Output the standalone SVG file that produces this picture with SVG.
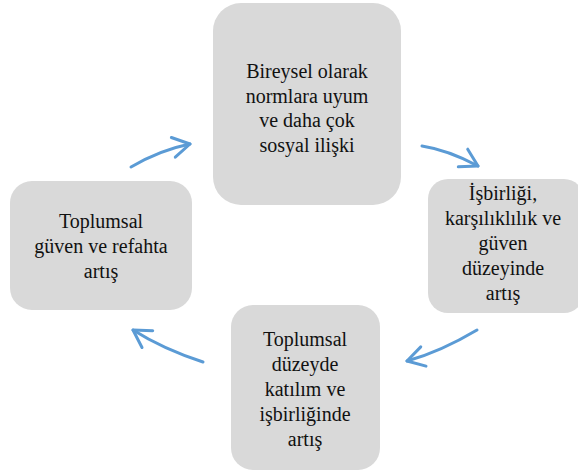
<svg xmlns="http://www.w3.org/2000/svg" width="578" height="473" viewBox="0 0 578 473">
<defs>
<marker id="ah" markerUnits="userSpaceOnUse" markerWidth="40" markerHeight="40" refX="0" refY="0" viewBox="-20 -20 40 40" orient="auto" overflow="visible">
<path d="M -17,-10 L 0,0 L -17,10" fill="none" stroke="#5B9BD5" stroke-width="3" stroke-linecap="round" stroke-linejoin="round"/>
</marker>
</defs>
<rect width="578" height="473" fill="#fff"/>
<g id="connectors" fill="none" stroke="#5B9BD5" stroke-width="3" stroke-linecap="round">
<path d="M 422,146 Q 448,150 478,166" marker-end="url(#ah)"/>
<path d="M 477,330 Q 440,352 407,361" marker-end="url(#ah)"/>
<path d="M 203,362 Q 163,349 133,330" marker-end="url(#ah)"/>
<path d="M 131,167 Q 160,150 190,144" marker-end="url(#ah)"/>
</g>
<g id="node-top">
<rect fill="#D9D9D9" x="213" y="3" width="188" height="202" rx="28"/>
<text x="307" y="78" style="font-family:'Liberation Serif','Times New Roman',serif;font-size:20px" fill="#111" text-anchor="middle">Bireysel olarak</text>
<text x="307" y="103" style="font-family:'Liberation Serif','Times New Roman',serif;font-size:20px" fill="#111" text-anchor="middle">normlara uyum</text>
<text x="307" y="127" style="font-family:'Liberation Serif','Times New Roman',serif;font-size:20px" fill="#111" text-anchor="middle">ve daha çok</text>
<text x="307" y="152" style="font-family:'Liberation Serif','Times New Roman',serif;font-size:20px" fill="#111" text-anchor="middle">sosyal ilişki</text>
</g>
<g id="node-right">
<rect fill="#D9D9D9" x="428" y="179" width="156" height="134" rx="20"/>
<text x="503" y="200" style="font-family:'Liberation Serif','Times New Roman',serif;font-size:20px" fill="#111" text-anchor="middle">İşbirliği,</text>
<text x="503" y="225" style="font-family:'Liberation Serif','Times New Roman',serif;font-size:20px" fill="#111" text-anchor="middle">karşılıklılık ve</text>
<text x="503" y="250" style="font-family:'Liberation Serif','Times New Roman',serif;font-size:20px" fill="#111" text-anchor="middle">güven</text>
<text x="503" y="275" style="font-family:'Liberation Serif','Times New Roman',serif;font-size:20px" fill="#111" text-anchor="middle">düzeyinde</text>
<text x="503" y="300" style="font-family:'Liberation Serif','Times New Roman',serif;font-size:20px" fill="#111" text-anchor="middle">artış</text>
</g>
<g id="node-bottom">
<rect fill="#D9D9D9" x="231" y="305" width="149" height="165" rx="22"/>
<text x="305" y="346" style="font-family:'Liberation Serif','Times New Roman',serif;font-size:20px" fill="#111" text-anchor="middle">Toplumsal</text>
<text x="305" y="371" style="font-family:'Liberation Serif','Times New Roman',serif;font-size:20px" fill="#111" text-anchor="middle">düzeyde</text>
<text x="305" y="396" style="font-family:'Liberation Serif','Times New Roman',serif;font-size:20px" fill="#111" text-anchor="middle">katılım ve</text>
<text x="305" y="421" style="font-family:'Liberation Serif','Times New Roman',serif;font-size:20px" fill="#111" text-anchor="middle">işbirliğinde</text>
<text x="305" y="446" style="font-family:'Liberation Serif','Times New Roman',serif;font-size:20px" fill="#111" text-anchor="middle">artış</text>
</g>
<g id="node-left">
<rect fill="#D9D9D9" x="10" y="181" width="182" height="129" rx="22"/>
<text x="101" y="228" style="font-family:'Liberation Serif','Times New Roman',serif;font-size:20px" fill="#111" text-anchor="middle">Toplumsal</text>
<text x="101" y="253" style="font-family:'Liberation Serif','Times New Roman',serif;font-size:20px" fill="#111" text-anchor="middle">güven ve refahta</text>
<text x="101" y="278" style="font-family:'Liberation Serif','Times New Roman',serif;font-size:20px" fill="#111" text-anchor="middle">artış</text>
</g>
</svg>
